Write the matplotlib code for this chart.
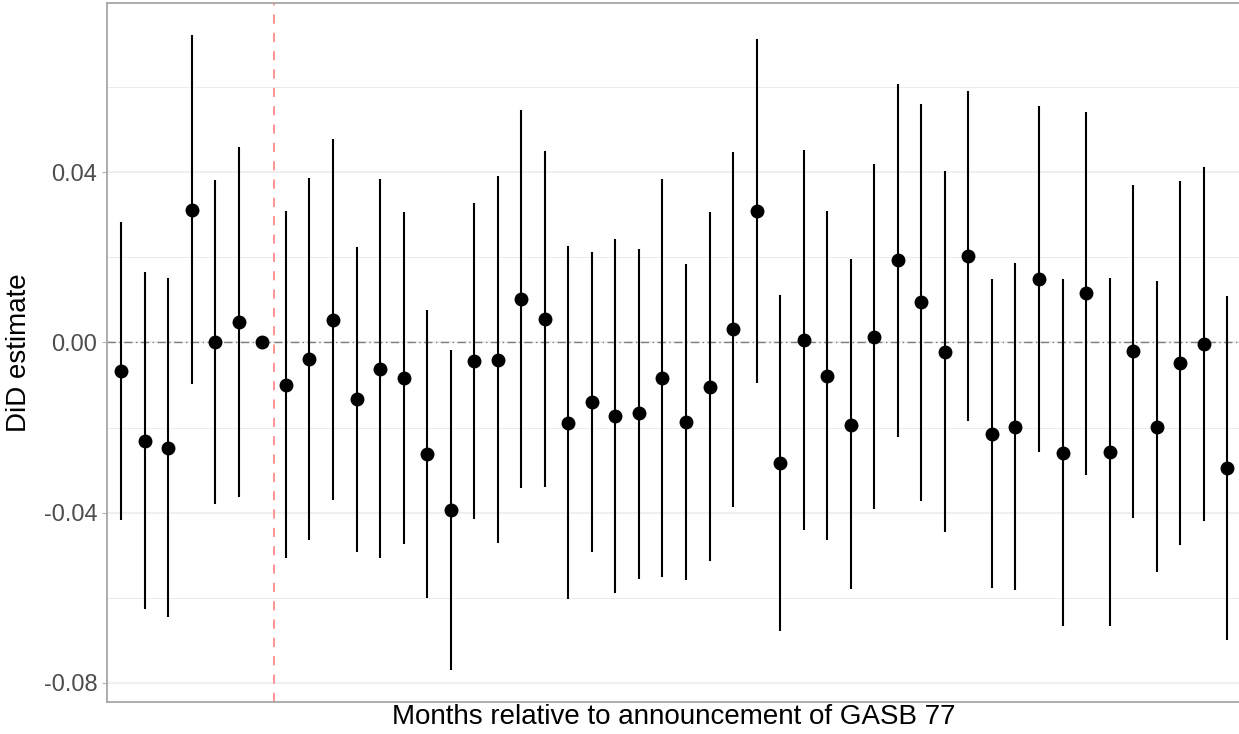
import numpy as np
import matplotlib
matplotlib.use("Agg")
import matplotlib.pyplot as plt

plt.rcParams['font.family'] = ['Liberation Sans', 'DejaVu Sans']

# months relative to the announcement (-1 is the reference month)
months = list(range(-7, 41))

# point estimates
est = [-0.0068, -0.0231, -0.0248, 0.0312, 0.0000, 0.0048, 0.0000,
       -0.0099, -0.0038, 0.0053, -0.0134, -0.0062, -0.0084, -0.0262,
       -0.0394, -0.0044, -0.0041, 0.0102, 0.0055, -0.0189, -0.0141,
       -0.0173, -0.0167, -0.0084, -0.0188, -0.0105, 0.0031, 0.0308,
       -0.0284, 0.0005, -0.0078, -0.0193, 0.0013, 0.0193, 0.0094,
       -0.0022, 0.0202, -0.0215, -0.0198, 0.0148, -0.0260, 0.0115,
       -0.0258, -0.0021, -0.0198, -0.0048, -0.0003, -0.0295]

ci_hi = [0.0282, 0.0165, 0.0151, 0.0722, 0.0381, 0.0458, np.nan,
         0.0309, 0.0387, 0.0477, 0.0223, 0.0384, 0.0306, 0.0076,
         -0.0017, 0.0327, 0.0391, 0.0546, 0.0449, 0.0227, 0.0213,
         0.0243, 0.0220, 0.0384, 0.0184, 0.0305, 0.0448, 0.0712,
         0.0112, 0.0451, 0.0308, 0.0195, 0.0420, 0.0606, 0.0560,
         0.0403, 0.0590, 0.0149, 0.0187, 0.0555, 0.0148, 0.0541,
         0.0152, 0.0370, 0.0144, 0.0380, 0.0412, 0.0108]

ci_lo = [-0.0417, -0.0627, -0.0645, -0.0097, -0.0380, -0.0363, np.nan,
         -0.0507, -0.0465, -0.0370, -0.0492, -0.0507, -0.0473, -0.0601,
         -0.0769, -0.0414, -0.0472, -0.0341, -0.0339, -0.0603, -0.0493,
         -0.0589, -0.0555, -0.0551, -0.0559, -0.0514, -0.0387, -0.0095,
         -0.0679, -0.0441, -0.0464, -0.0579, -0.0392, -0.0222, -0.0373,
         -0.0445, -0.0184, -0.0578, -0.0582, -0.0258, -0.0667, -0.0311,
         -0.0666, -0.0412, -0.0540, -0.0477, -0.0419, -0.0698]

announce_month = -0.5

x = np.arange(len(months))
fig = plt.figure(figsize=(12.39, 7.34), dpi=100)
ax = fig.add_axes([0.0864, 0.044, 0.9155, 0.9519])

# grid like ggplot theme_light
for v in [-0.08, -0.04, 0.00, 0.04]:
    ax.axhline(v, color='#EBEBEB', lw=1.1, zorder=0)
for v in [-0.06, -0.02, 0.02, 0.06]:
    ax.axhline(v, color='#EBEBEB', lw=0.7, zorder=0)

ax.axhline(0, color='#7F7F7F', lw=1.0, dashes=(6, 2.5, 1, 2.5), zorder=1)
ax.axvline(np.interp(announce_month, months, x), color='#FF8080', lw=1.2,
           dashes=(5.5, 5.5), zorder=1)

ax.vlines(x, ci_lo, ci_hi, color='black', lw=1.5, zorder=2)
ax.plot(x, est, 'o', color='black', markersize=9, zorder=3)

ax.set_xlim(-0.6, len(months) - 0.4)
ax.set_ylim(-0.0844, 0.0797)
ax.set_xticks([])
ax.set_yticks([-0.08, -0.04, 0.00, 0.04])
ax.set_yticklabels(['-0.08', '-0.04', '0.00', '0.04'])
ax.tick_params(axis='y', length=3.6, width=0.8, color='#B3B3B3',
               labelcolor='#4D4D4D', labelsize=17, pad=3.5)

for s in ax.spines.values():
    s.set_color('#A6A6A6')
    s.set_linewidth(1.3)

ax.set_xlabel('Months relative to announcement of GASB 77', fontsize=20,
              labelpad=2)
ax.set_ylabel('DiD estimate', fontsize=20, labelpad=8)

fig.savefig('out.png', dpi=100)
